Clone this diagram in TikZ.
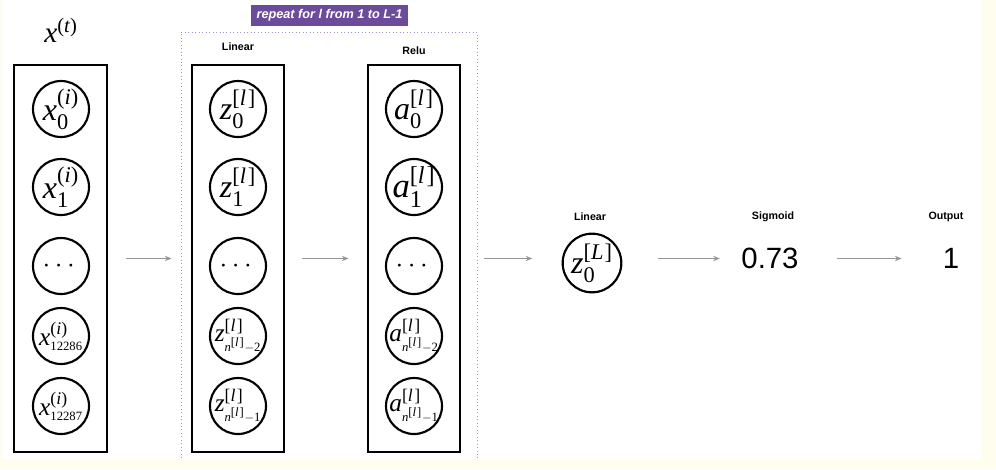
\documentclass[tikz,border=0pt]{standalone}
\usepackage{amsmath}
\usepackage{fontspec}
\newfontfamily\tms{Liberation Serif}
\newfontfamily\hel{Liberation Sans}
\usetikzlibrary{arrows.meta,fit}
\definecolor{pagebg}{RGB}{255,253,238}
\definecolor{rptpurple}{RGB}{108,76,154}
\definecolor{rptdash}{RGB}{170,145,205}
\definecolor{arrgray}{RGB}{150,150,150}
\newcommand\ti[1]{\text{\tms\itshape #1}}
\newcommand\tu[1]{\text{\tms #1}}
\newcommand\supi{\text{\tms(\textit{i})}}
\newcommand\supt{\text{\tms(\textit{t})}}
\newcommand\supl{\text{\tms[\textit{l}\kern0.08em]}}
\newcommand\supL{\text{\tms[\textit{L}\kern0.05em]}}
\newcommand\inunit[1]{\smash{\makebox[0pt]{\raisebox{\dimexpr(\depth-\height)/2\relax}{#1}}}}
\begin{document}
\begin{tikzpicture}[x=0.75pt,y=-0.75pt,
  unit/.style={circle,draw,line width=1.6pt,minimum size=42pt,inner sep=0pt},
  layerbox/.style={draw,line width=2.2pt,inner sep=0pt},
  head/.style={font=\hel\bfseries\fontsize{8}{9}\selectfont},
  big/.style={font=\fontsize{24}{28}\selectfont},
  mid/.style={font=\fontsize{22}{26}\selectfont},
  small/.style={font=\fontsize{19}{22}\selectfont},
  dots/.style={font=\fontsize{22}{24}\selectfont},
  val/.style={font=\hel\fontsize{22}{24}\selectfont,inner sep=0pt},
  arr/.style={draw=arrgray,line width=1.1pt,-{Stealth[length=5pt,width=4pt]}}]
\useasboundingbox (0,0) rectangle (996,469);
\fill[pagebg] (0,0) rectangle (996,469);
\fill[white] (2,0) rectangle (981,459);
% repeat frame
\draw[rptdash,dotted,line width=0.6pt] (181,458) -- (181,32) -- (477,32) -- (477,458);
\node (rpt) [fill=rptpurple,text=white,font=\hel\bfseries\itshape\fontsize{9.5}{11}\selectfont,
  minimum width=117.75pt,minimum height=15.75pt,inner sep=0pt] at (329.5,15.5) {repeat for l from 1 to L-1};
% headings
\node (xt) [mid] at (61,30) {$\ti{x}^{\supt}$};
\node (hlin1) [head] at (238,47) {Linear};
\node (hrelu) [head] at (414,51) {Relu};
\node (hlin2) [head] at (590,217) {Linear};
\node (hsig) [head] at (773,217) {Sigmoid};
\node (hout) [head] at (946,217) {Output};
% boxes
\node (xbox) [layerbox,fit={(14,65) (107,452)}] {};
\node (zbox) [layerbox,fit={(192,65) (284,452)}] {};
\node (abox) [layerbox,fit={(368,65) (460,452)}] {};
% input units
\node (x0) [unit,big] at (61,109) {\inunit{$\ti{x}^{\supi}_{\tu{0}}$}};
\node (x1) [unit,big] at (61,187) {\inunit{$\ti{x}^{\supi}_{\tu{1}}$}};
\node (xd) [unit,dots] at (61,266) {\inunit{$\cdots$}};
\node (x2) [unit,small] at (61,336) {\inunit{$\ti{x}^{\supi}_{\scriptscriptstyle\tu{12286}}$}};
\node (x3) [unit,small] at (61,406) {\inunit{$\ti{x}^{\supi}_{\scriptscriptstyle\tu{12287}}$}};
% linear units
\node (z0) [unit,big] at (238,109) {\inunit{$\ti{z}^{\supl}_{\tu{0}}$}};
\node (z1) [unit,big] at (238,187) {\inunit{$\ti{z}^{\supl}_{\tu{1}}$}};
\node (zd) [unit,dots] at (238,266) {\inunit{$\cdots$}};
\node (z2) [unit,small] at (238,336) {\inunit{$\ti{z}^{\supl}_{\scriptscriptstyle\ti{n}^{\supl}-\tu{2}}$}};
\node (z3) [unit,small] at (238,406) {\inunit{$\ti{z}^{\supl}_{\scriptscriptstyle\ti{n}^{\supl}-\tu{1}}$}};
% relu units
\node (a0) [unit,big] at (414,109) {\inunit{$\ti{a}^{\supl}_{\tu{0}}$}};
\node (a1) [unit,font=\fontsize{26}{30}\selectfont] at (414,187) {\inunit{$\ti{a}^{\supl}_{\tu{1}}$}};
\node (ad) [unit,dots] at (414,266) {\inunit{$\cdots$}};
\node (a2) [unit,small] at (414,336) {\inunit{$\ti{a}^{\supl}_{\scriptscriptstyle\ti{n}^{\supl}-\tu{2}}$}};
\node (a3) [unit,small] at (414,406) {\inunit{$\ti{a}^{\supl}_{\scriptscriptstyle\ti{n}^{\supl}-\tu{1}}$}};
% output part
\node (zL) [unit,big,minimum size=44pt] at (592,263) {\inunit{$\ti{z}^{\supL}_{\tu{0}}$}};
\node (sig) [val] at (770,258.5) {0.73};
\node (out) [val] at (951,258.5) {1};
% connectors
\draw[arr,shorten <=13.5pt,shorten >=14.25pt] (xbox.east) -- (zbox.west);
\draw[arr,shorten <=12.75pt,shorten >=13.5pt] (zbox.east) -- (abox.west);
\draw[arr,shorten <=17.25pt,shorten >=22pt] (abox.east) -- (abox.east -| zL.west);
\draw[arr,shorten <=26.6pt,shorten >=16pt] (zL.east |- sig.west) -- (sig.west);
\draw[arr,shorten <=29pt,shorten >=30.75pt] (sig.east) -- (out.west);
\end{tikzpicture}
\end{document}
